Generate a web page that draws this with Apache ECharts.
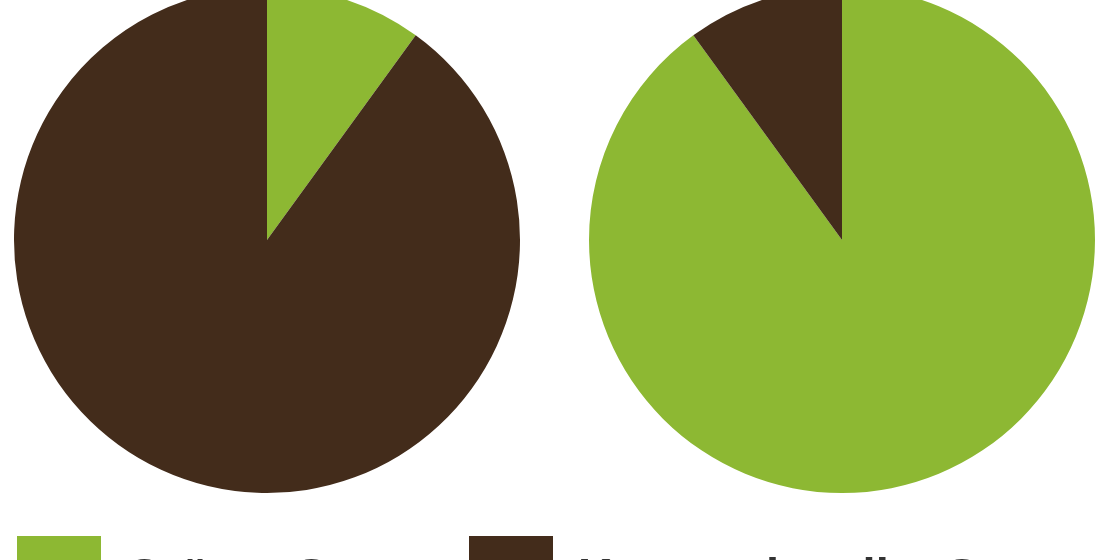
<!DOCTYPE html>
<html><head><meta charset="utf-8">
<script src="https://cdn.jsdelivr.net/npm/echarts@6/dist/echarts.min.js"></script>
<style>html,body{margin:0;padding:0;background:#fff}#c{width:1120px;height:560px}</style>
</head><body><div id="c"></div>
<script>
const categories = ["Grüner Strom", "Konventioneller Strom"];
const leftValues = [10, 90];
const rightValues = [90, 10];
const colors = ["#8db833", "#432c1b"];

const chart = echarts.init(document.getElementById('c'));
function pieData(vals){ return categories.map((n,i)=>({name:n, value:vals[i]})); }
const legendCommon = {
  top: 536, padding: 0, itemWidth: 84, itemHeight: 84, icon: 'rect',
  textStyle: {fontSize: 47, fontWeight: 'bold', color: '#333', fontFamily: 'Liberation Sans, Arial, sans-serif', padding: [0,0,0,20]},
  selectedMode: false
};
chart.setOption({
  animation: false,
  color: colors,
  legend: [
    Object.assign({left: 17, data: [categories[0]]}, legendCommon),
    Object.assign({left: 469, data: [categories[1]]}, legendCommon)
  ],
  series: [
    {type: 'pie', center: [267, 240], radius: 253, startAngle: 90, clockwise: true,
     label: {show: false}, labelLine: {show: false}, emphasis: {disabled: true},
     data: pieData(leftValues)},
    {type: 'pie', center: [842, 240], radius: 253, startAngle: 90, clockwise: true,
     label: {show: false}, labelLine: {show: false}, emphasis: {disabled: true},
     data: pieData(rightValues)}
  ]
});
</script></body></html>
